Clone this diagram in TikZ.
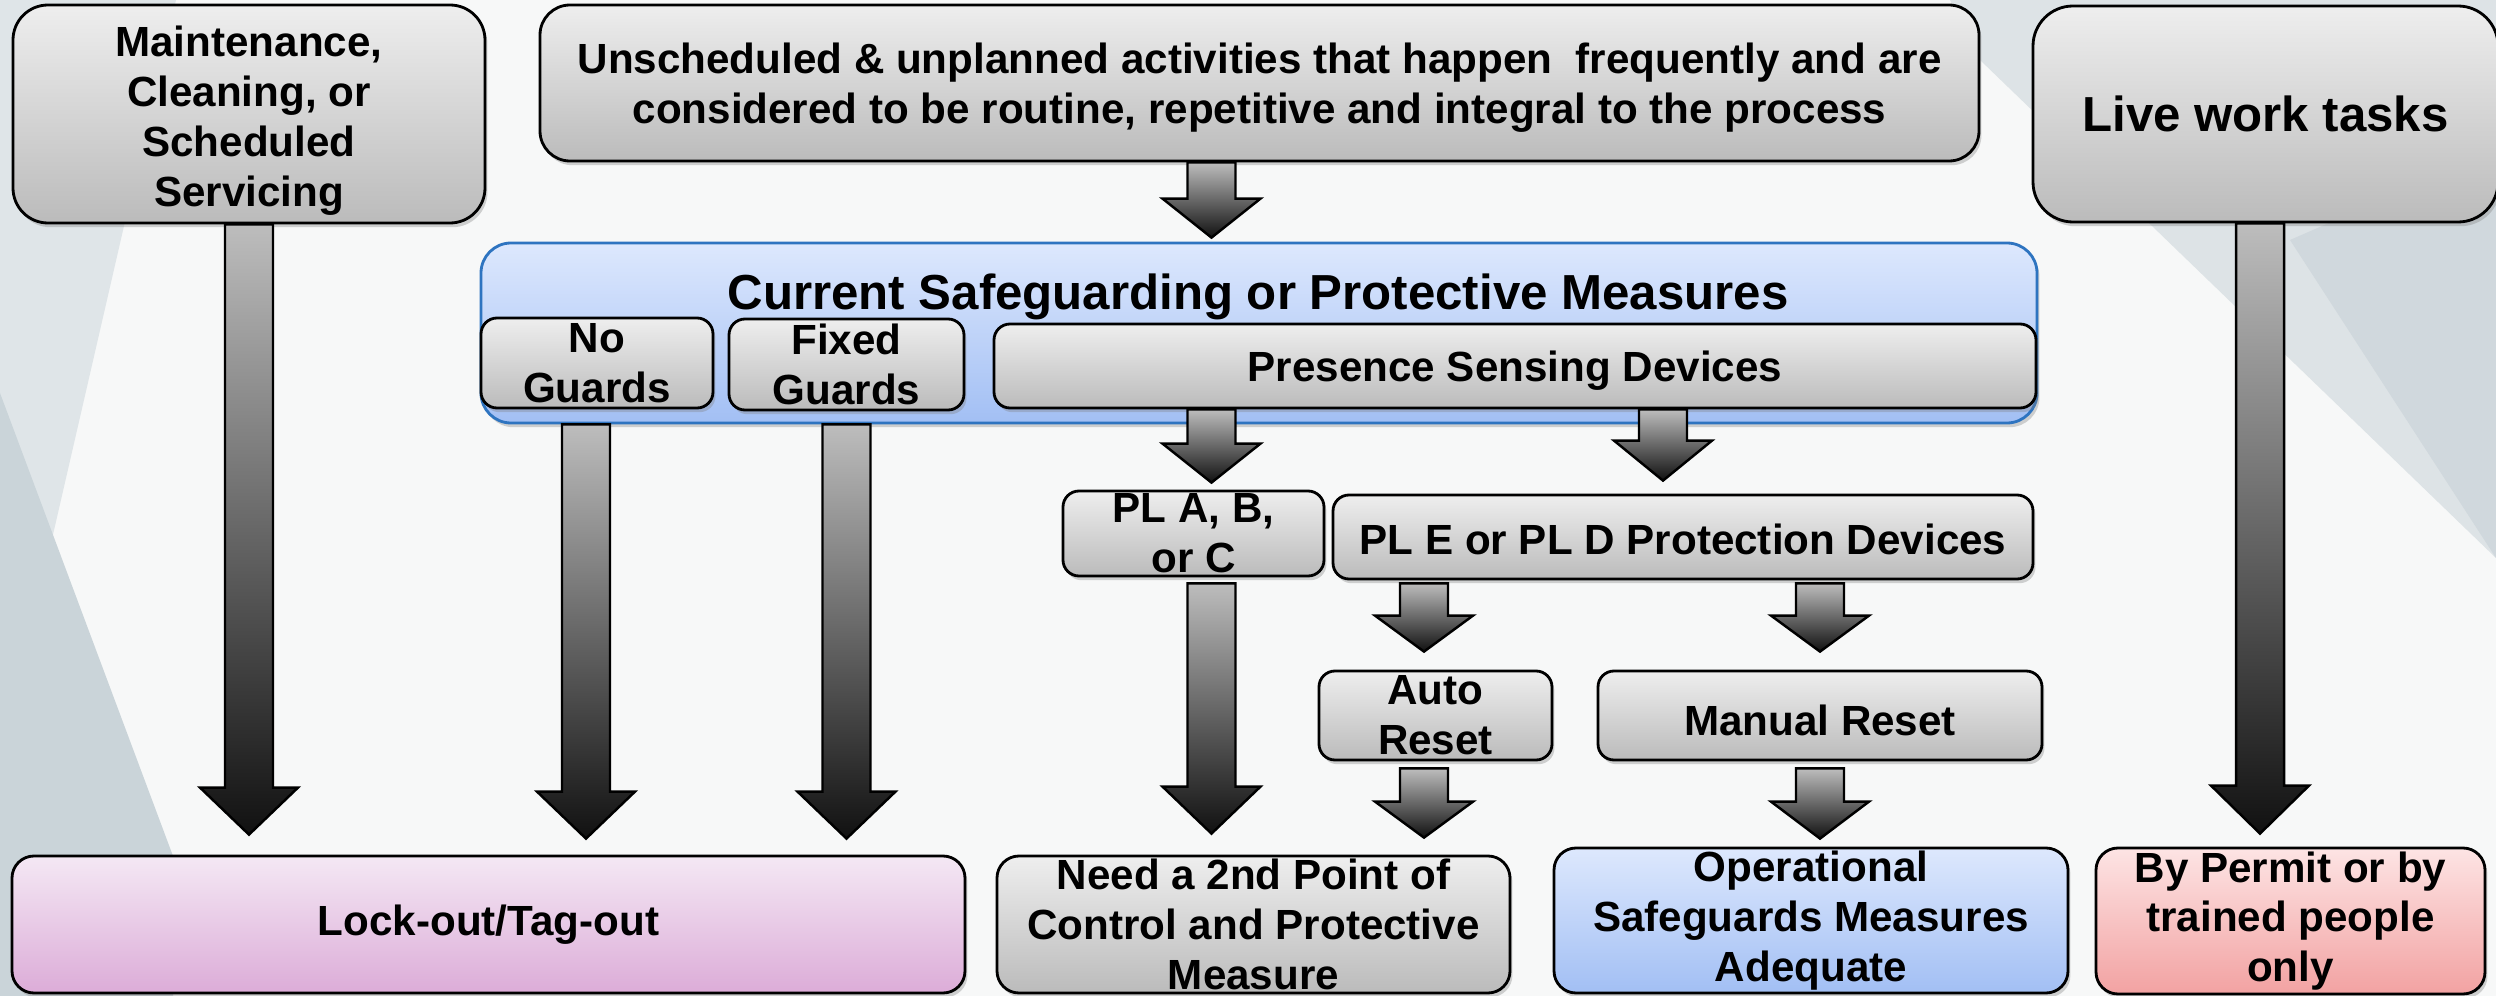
\documentclass[tikz,border=0pt]{standalone}
\usepackage{fontspec}
\setmainfont{Liberation Sans}
\usetikzlibrary{calc,shadows}

\definecolor{bgwhite}{HTML}{F7F8F8}
\definecolor{bgleft}{HTML}{DFE5E8}
\definecolor{bgdark}{HTML}{CAD4D9}
\definecolor{bgright}{HTML}{DDE3E6}
\definecolor{boxtop}{HTML}{EEEEEE}
\definecolor{boxbot}{HTML}{BBBBBB}
\definecolor{bluetop}{HTML}{DDE8FD}
\definecolor{bluebot}{HTML}{A2BFF4}
\definecolor{blueline}{HTML}{2E74C0}
\definecolor{locktop}{HTML}{F4E8F4}
\definecolor{lockbot}{HTML}{DCACD8}
\definecolor{permtop}{HTML}{FDE4E4}
\definecolor{permbot}{HTML}{F2A2A2}
\definecolor{arrowtop}{HTML}{BDBDBD}
\definecolor{arrowbot}{HTML}{111111}

\tikzset{
  dims/.style 2 args={minimum width=#1cm,minimum height=#2cm},
  greybox/.style={draw=black,line width=0.8pt,rounded corners=#1,top color=boxtop,bottom color=boxbot,
    align=center,inner xsep=2pt,inner ysep=0.5pt,font=\bfseries\fontsize{12}{14.2}\selectfont,
    drop shadow={shadow xshift=0.7pt,shadow yshift=-1.2pt,opacity=0.35}},
  greybox/.default=0.16cm,
  lower/.style={text height=#1},
  lower/.default=11.5pt,
  bluebox/.style={greybox=#1,top color=bluetop,bottom color=bluebot},
  bluebox/.default=0.22cm,
  lockbox/.style={greybox=0.22cm,top color=locktop,bottom color=lockbot},
  permitbox/.style={greybox=0.22cm,top color=permtop,bottom color=permbot},
  blockarrow/.style={draw=black,line width=0.7pt,line join=miter,top color=arrowtop,bottom color=arrowbot}
}

\newcommand{\blockarrow}[3][0.47]{%
  \path[blockarrow] let \p1=(#2), \p2=(#3) in
    (\x1-0.24cm,\y1) -- (\x1-0.24cm,\y2+#1cm) -- (\x1-0.49cm,\y2+#1cm) -- (\x1,\y2)
    -- (\x1+0.49cm,\y2+#1cm) -- (\x1+0.24cm,\y2+#1cm) -- (\x1+0.24cm,\y1) -- cycle;}

\begin{document}
\begin{tikzpicture}
  \useasboundingbox (0,0) rectangle (24.96,-9.96);
  \fill[bgwhite] (0,0) rectangle (24.96,-9.96);
  \fill[bgleft] (0,0) -- (1.76,0) -- (0,-7.65) -- cycle;
  \fill[bgdark] (0,-3.93) -- (1.73,-8.56) -- (1.73,-9.96) -- (0,-9.96) -- cycle;
  \fill[bgright] (19.5,0) -- (24.96,0) -- (24.96,-5.58) -- (19.8,-0.6) -- cycle;
  \fill[bgdark!70!bgright] (22.9,-2.4) -- (24.96,-1.5) -- (24.96,-5.58) -- cycle;

  \node[greybox=0.35cm,dims={4.72}{2.18},lower=55pt] (maint) at (2.49,-1.14) {Maintenance,\\Cleaning, or\\Scheduled\\Servicing};
  \node[greybox=0.3cm,dims={14.39}{1.56},lower=25.5pt] (unsched) at (12.595,-0.83) {Unscheduled \& unplanned activities that happen~ frequently and are\\considered to be routine, repetitive and integral to the process};
  \node[greybox=0.4cm,dims={4.65}{2.16},font=\bfseries\fontsize{14}{17}\selectfont] (live) at (22.655,-1.14) {Live work tasks};

  \node[bluebox=0.3cm,draw=blueline,dims={15.56}{1.80}] (blue) at (12.59,-3.33) {};
  \node[anchor=base,inner sep=0pt,font=\bfseries\fontsize{14}{17}\selectfont] (title) at (12.58,-3.10) {Current Safeguarding or Protective Measures};
  \node[greybox,dims={2.32}{0.90}] (noguard) at (5.97,-3.63) {No\\Guards};
  \node[greybox,dims={2.35}{0.91}] (fixguard) at (8.465,-3.645) {Fixed\\Guards};
  \node[greybox,dims={10.42}{0.84},lower] (psd) at (15.15,-3.66) {Presence Sensing Devices};

  \node[greybox,dims={2.61}{0.85}] (pla) at (11.935,-5.335) {PL A, B,\\or C};
  \node[greybox,dims={7.00}{0.84},lower=10pt] (ple) at (16.83,-5.37) {PL E or PL D Protection Devices};
  \node[greybox,dims={2.33}{0.89}] (auto) at (14.355,-7.155) {Auto\\Reset};
  \node[greybox,dims={4.44}{0.89},lower] (manual) at (18.20,-7.155) {Manual Reset};

  \node[lockbox,dims={9.53}{1.37}] (lockout) at (4.885,-9.245) {Lock-out/Tag-out};
  \node[greybox=0.22cm,dims={5.13}{1.37}] (need) at (12.535,-9.245) {Need a 2nd Point of\\Control and Protective\\Measure};
  \node[bluebox,dims={5.14}{1.45}] (oper) at (18.11,-9.205) {Operational\\Safeguards Measures\\Adequate};
  \node[permitbox,dims={3.89}{1.46}] (permit) at (22.905,-9.21) {By Permit or by\\trained people\\only};

  \coordinate (colA) at (12.115,0);
  \blockarrow{maint.south}{$(maint.south |- lockout.north)+(0,0.20)$}
  \blockarrow[0.39]{colA |- unsched.south}{$(colA |- blue.north)+(0,0.04)$}
  \blockarrow{$(noguard.south |- blue.south)+(-0.11,0)$}{$(noguard.south |- lockout.north)+(-0.11,0.16)$}
  \blockarrow{fixguard.south |- blue.south}{$(fixguard.south |- lockout.north)+(0,0.16)$}
  \blockarrow[0.39]{colA |- psd.south}{$(colA |- pla.north)+(0,0.07)$}
  \blockarrow[0.40]{$(ple.north |- psd.south)+(-0.2,0)$}{$(ple.north)+(-0.2,0.13)$}
  \blockarrow{$(colA |- pla.south)+(0,-0.06)$}{$(colA |- need.north)+(0,0.21)$}
  \blockarrow[0.36]{$(auto.north |- ple.south)+(-0.115,-0.03)$}{$(auto.north)+(-0.115,0.18)$}
  \blockarrow[0.36]{$(manual.north |- ple.south)+(0,-0.03)$}{$(manual.north)+(0,0.18)$}
  \blockarrow[0.36]{$(auto.south)+(-0.115,-0.07)$}{$(auto.south |- need.north)+(-0.115,0.17)$}
  \blockarrow[0.37]{$(manual.south)+(0,-0.07)$}{$(manual.south |- oper.north)+(0,0.08)$}
  \blockarrow[0.48]{$(live.south)+(-0.055,0)$}{$(live.south |- permit.north)+(-0.055,0.13)$}
\end{tikzpicture}
\end{document}
